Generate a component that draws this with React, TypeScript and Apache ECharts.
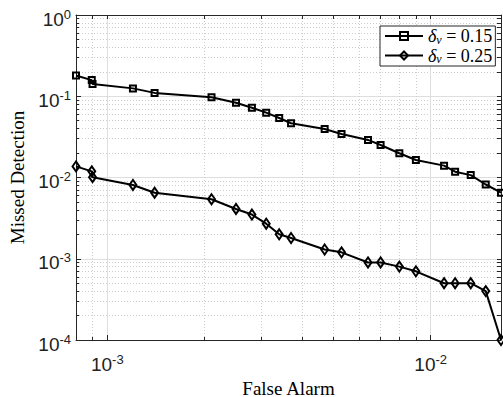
import React, { useEffect, useRef } from 'react';
import * as echarts from 'echarts';

// False alarm probabilities (x)
const falseAlarm = [
  8.0e-4, 8.95e-4, 9.0e-4, 1.2e-3, 1.4e-3, 2.1e-3, 2.5e-3, 2.8e-3, 3.1e-3, 3.4e-3, 3.7e-3,
  4.7e-3, 5.3e-3, 6.4e-3, 7.0e-3, 8.0e-3, 9.0e-3, 1.1e-2, 1.19e-2, 1.33e-2, 1.48e-2, 1.65e-2,
];
// Missed detection, delta_v = 0.15
const missed015 = [
  0.18, 0.158, 0.1415, 0.125, 0.11, 0.097, 0.083, 0.0723, 0.0628, 0.054, 0.0465,
  0.0395, 0.0343, 0.029, 0.0251, 0.0199, 0.0164, 0.014, 0.0118, 0.0107, 0.0082, 0.0065,
];
// Missed detection, delta_v = 0.25
const missed025 = [
  0.0137, 0.0119, 0.0101, 0.0081, 0.0065, 0.0054, 0.0041, 0.0035, 0.0027, 0.002, 0.0018,
  0.0013, 0.0012, 0.0009, 0.0009, 0.0008, 0.0007, 0.0005, 0.0005, 0.0005, 0.0004, 0.0001,
];
const deltaValues = ['0.15', '0.25'];
const seriesSymbols = ['rect', 'diamond'];

const xMajorTicks = [1e-3, 1e-2];
const xMinorTicks = [9e-4, 2e-3, 3e-3, 4e-3, 5e-3, 6e-3, 7e-3, 8e-3, 9e-3];
const yMajorTicks = [1e-4, 1e-3, 1e-2, 1e-1, 1];
const yMinorTicks = [
  2e-4, 3e-4, 4e-4, 5e-4, 6e-4, 7e-4, 8e-4, 9e-4,
  2e-3, 3e-3, 4e-3, 5e-3, 6e-3, 7e-3, 8e-3, 9e-3,
  2e-2, 3e-2, 4e-2, 5e-2, 6e-2, 7e-2, 8e-2, 9e-2,
  2e-1, 3e-1, 4e-1, 5e-1, 6e-1, 7e-1, 8e-1, 9e-1,
];
const xRange = [8e-4, 1.65e-2];
const yRange = [1e-4, 1];

const AXIS_COLOR = '#262626';
const SERIF = 'Liberation Serif';
const SANS = 'Liberation Sans';

const powLabel = (v: number) => {
  const e = Math.round(Math.log10(v));
  return `{b|10}{s|${e}}`;
};

const makeAxisLabel = (extra: object) => ({
  show: true,
  fontFamily: SANS,
  fontSize: 19,
  color: '#222',
  formatter: powLabel,
  rich: {
    b: { fontFamily: SANS, fontSize: 19, color: '#222', lineHeight: 21, verticalAlign: 'bottom' },
    s: { fontFamily: SANS, fontSize: 13, color: '#222', lineHeight: 10, verticalAlign: 'top' },
  },
  ...extra,
});

export default function App() {
  const ref = useRef<HTMLDivElement>(null);

  useEffect(() => {
    if (!ref.current) return;
    const chart = echarts.init(ref.current, undefined, { renderer: 'svg' });

    const majorX = {
      type: 'log', logBase: 10, min: xRange[0], max: xRange[1], position: 'bottom', offset: 0,
      name: 'False Alarm', nameLocation: 'middle', nameGap: 27,
      nameTextStyle: { fontFamily: SERIF, fontSize: 19, color: '#000' },
      axisLine: { show: true, lineStyle: { color: AXIS_COLOR, width: 1 } },
      axisTick: { show: true, inside: true, length: 5, customValues: xMajorTicks, lineStyle: { color: AXIS_COLOR } },
      axisLabel: makeAxisLabel({ customValues: xMajorTicks, margin: 13 }),
      splitLine: { show: true, lineStyle: { color: '#dedede', width: 1, type: 'solid' } },
    };
    const minorX = {
      type: 'log', logBase: 10, min: xRange[0], max: xRange[1], position: 'bottom', offset: 0,
      axisLine: { show: false },
      axisTick: { show: true, inside: true, length: 3, customValues: xMinorTicks, lineStyle: { color: AXIS_COLOR } },
      axisLabel: { show: false },
      splitLine: { show: true, lineStyle: { color: '#cdcdcd', width: 1, type: [1, 2] } },
    };
    const topX = {
      type: 'log', logBase: 10, min: xRange[0], max: xRange[1], position: 'top', offset: 0,
      axisLine: { show: true, lineStyle: { color: AXIS_COLOR, width: 1 } },
      axisTick: { show: true, inside: true, length: 4, customValues: [...xMajorTicks, ...xMinorTicks], lineStyle: { color: AXIS_COLOR } },
      axisLabel: { show: false },
      splitLine: { show: false },
    };
    const majorY = {
      type: 'log', logBase: 10, min: yRange[0], max: yRange[1], position: 'left', offset: 0,
      name: 'Missed Detection', nameLocation: 'middle', nameGap: 46,
      nameTextStyle: { fontFamily: SERIF, fontSize: 19, color: '#000' },
      axisLine: { show: true, lineStyle: { color: AXIS_COLOR, width: 1 } },
      axisTick: { show: true, inside: true, length: 5, customValues: yMajorTicks, lineStyle: { color: AXIS_COLOR } },
      axisLabel: makeAxisLabel({ customValues: yMajorTicks, margin: 5, padding: [6, 0, 0, 0] }),
      splitLine: { show: true, lineStyle: { color: '#dedede', width: 1, type: 'solid' } },
    };
    const minorY = {
      type: 'log', logBase: 10, min: yRange[0], max: yRange[1], position: 'left', offset: 0,
      axisLine: { show: false },
      axisTick: { show: true, inside: true, length: 3, customValues: yMinorTicks, lineStyle: { color: AXIS_COLOR } },
      axisLabel: { show: false },
      splitLine: { show: true, lineStyle: { color: '#cdcdcd', width: 1, type: [1, 2] } },
    };
    const rightY = {
      type: 'log', logBase: 10, min: yRange[0], max: yRange[1], position: 'right', offset: 0,
      axisLine: { show: true, lineStyle: { color: AXIS_COLOR, width: 1 } },
      axisTick: { show: true, inside: true, length: 4, customValues: [...yMajorTicks, ...yMinorTicks], lineStyle: { color: AXIS_COLOR } },
      axisLabel: { show: false },
      splitLine: { show: false },
    };

    const makeSeries = (idx: number, ys: number[], size: number | number[]) => ({
      name: `δv = ${deltaValues[idx]}`,
      type: 'line',
      xAxisIndex: 0,
      yAxisIndex: 0,
      data: falseAlarm.map((x, i) => [x, ys[i]]),
      symbol: seriesSymbols[idx],
      symbolSize: size,
      showAllSymbol: true,
      clip: false,
      lineStyle: { color: '#000', width: 2 },
      itemStyle: { color: 'rgba(255,255,255,0)', borderColor: '#000', borderWidth: 2 },
      emphasis: { disabled: true },
      z: 3,
    });

    chart.setOption({
      animation: false,
      backgroundColor: '#fff',
      grid: { left: 76, top: 15, right: 2, bottom: 57, containLabel: false, outerBoundsMode: 'none' },
      xAxis: [majorX, minorX, topX],
      yAxis: [majorY, minorY, rightY],
      legend: {
        show: true,
        orient: 'vertical',
        left: 380,
        top: 26,
        backgroundColor: '#fff',
        borderColor: AXIS_COLOR,
        borderWidth: 1,
        borderRadius: 0,
        padding: [1, 3, 1, 4],
        itemGap: 1,
        itemWidth: 38,
        itemHeight: 10,
        selectedMode: false,
        formatter: (name: string) => {
          const v = name.split('= ')[1];
          return `{d|δ}{v|v}{n| = ${v}}`;
        },
        textStyle: {
          color: '#000',
          fontFamily: SERIF,
          fontSize: 18,
          rich: {
            d: { fontFamily: SERIF, fontSize: 18, fontStyle: 'italic', color: '#000', lineHeight: 19 },
            v: { fontFamily: SERIF, fontSize: 12, fontStyle: 'italic', color: '#000', lineHeight: 8, verticalAlign: 'bottom' },
            n: { fontFamily: SERIF, fontSize: 18, color: '#000', lineHeight: 19 },
          },
        },
      },
      series: [makeSeries(0, missed015, 6), makeSeries(1, missed025, [7, 10])],
    });

    return () => chart.dispose();
  }, []);

  return <div ref={ref} style={{ width: 503, height: 397, position: 'absolute', left: 0, top: 0 }} />;
}
